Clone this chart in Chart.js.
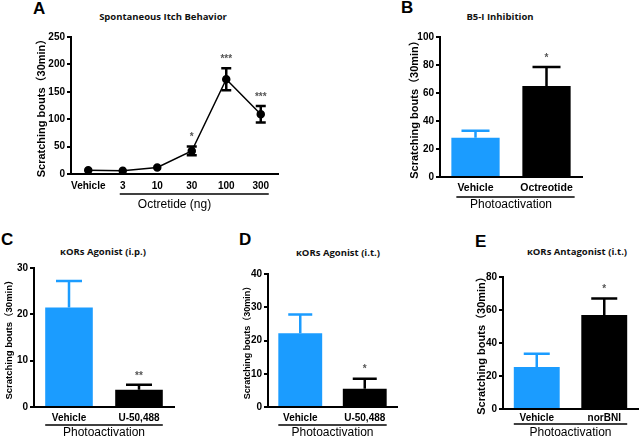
<!DOCTYPE html>
<html>
<head>
<meta charset="utf-8">
<script src="https://cdn.jsdelivr.net/npm/chart.js"></script>
<style>
  body { margin: 0; background: #fff; }
  #fig { position: relative; width: 640px; height: 440px; background: #fff; overflow: hidden; }
  .panel { position: absolute; }
  .letter { position: absolute; font: bold 17px "Liberation Sans", Arial, sans-serif; line-height: 18px; color: #000; }
  .ttl { position: absolute; width: 200px; text-align: center; font: bold 9.5px "Open Sans", "DejaVu Sans", sans-serif; line-height: 12px; color: #111; }
</style>
</head>
<body>
<div id="fig">
  <div class="letter" style="left:33px;top:0px">A</div>
  <div class="letter" style="left:401px;top:-1px">B</div>
  <div class="letter" style="left:1px;top:231px">C</div>
  <div class="letter" style="left:239px;top:231px">D</div>
  <div class="letter" style="left:475px;top:233px">E</div>

  <div class="ttl" style="left:63px;top:11px">Spontaneous Itch Behavior</div>
  <div class="ttl" style="left:400px;top:11px">B5-I Inhibition</div>
  <div class="ttl" style="left:3px;top:246px">κORs Agonist (i.p.)</div>
  <div class="ttl" style="left:238px;top:247px">κORs Agonist (i.t.)</div>
  <div class="ttl" style="left:477px;top:246px">κORs Antagonist (i.t.)</div>

  <canvas class="panel" id="chartA" width="320" height="215" style="left:0;top:0"></canvas>
  <canvas class="panel" id="chartB" width="260" height="215" style="left:380px;top:0"></canvas>
  <canvas class="panel" id="chartC" width="215" height="215" style="left:0;top:225px"></canvas>
  <canvas class="panel" id="chartD" width="210" height="215" style="left:215px;top:225px"></canvas>
  <canvas class="panel" id="chartE" width="215" height="215" style="left:425px;top:225px"></canvas>
</div>
<script>
// A: dose response
const doseLabels = ["Vehicle", "3", "10", "30", "100", "300"];
const itchMean = [7, 6, 12, 42, 173, 109];
const itchErr = [0, 0, 0, 8, 20, 15];
const itchStars = ["", "", "", "*", "***", "***"];

// B: B5-I inhibition
const inhibLabels = ["Vehicle", "Octreotide"];
const inhibMean = [28, 65];
const inhibErr = [5, 13.5];
const inhibStars = ["", "*"];

// C: kORs agonist i.p.
const ipLabels = ["Vehicle", "U-50,488"];
const ipMean = [21.5, 3.7];
const ipErr = [5.7, 1.1];
const ipStars = ["", "**"];

// D: kORs agonist i.t.
const itLabels = ["Vehicle", "U-50,488"];
const itMean = [22.2, 5.5];
const itErr = [5.6, 3];
const itStars = ["", "*"];

// E: kORs antagonist i.t.
const antLabels = ["Vehicle", "norBNI"];
const antMean = [25.5, 57];
const antErr = [8, 10];
const antStars = ["", "*"];

const BLUE = "#1b9cff";
const ARIAL = "'Liberation Sans', Arial, 'Noto Sans CJK SC', sans-serif";
const YTITLE = "Scratching bouts（30min）";

const errorBars = {
  id: "errorBars",
  afterDatasetsDraw(chart, args, opts) {
    const ctx = chart.ctx;
    const ys = chart.scales.y;
    const ds = chart.data.datasets[0];
    const meta = chart.getDatasetMeta(0);
    ctx.save();
    meta.data.forEach((el, i) => {
      const v = ds.data[i], e = opts.errors[i];
      const col = Array.isArray(opts.color) ? opts.color[i] : opts.color;
      const yTop = ys.getPixelForValue(v + e);
      const yBot = opts.twoSided ? ys.getPixelForValue(v - e) : ys.getPixelForValue(v);
      ctx.strokeStyle = col;
      ctx.lineWidth = opts.width;
      if (e > 0) {
        ctx.beginPath();
        ctx.moveTo(el.x, yBot);
        ctx.lineTo(el.x, yTop);
        ctx.moveTo(el.x - opts.cap, yTop);
        ctx.lineTo(el.x + opts.cap, yTop);
        if (opts.twoSided) {
          ctx.moveTo(el.x - opts.cap, yBot);
          ctx.lineTo(el.x + opts.cap, yBot);
        }
        ctx.stroke();
      }
      if (opts.stars[i]) {
        ctx.fillStyle = "#555";
        ctx.font = "bold 10px " + ARIAL;
        ctx.textAlign = "center";
        ctx.textBaseline = "bottom";
        ctx.fillText(opts.stars[i], el.x, yTop - opts.starGap);
      }
    });
    // group underline below the tick labels
    const u = opts.underline;
    const a = meta.data[u.first], b = meta.data[u.last];
    const x1 = a.x - (a.width || 0) / 2 - u.padL;
    const x2 = b.x + (b.width || 0) / 2 + u.padR;
    const y = chart.chartArea.bottom + u.dy;
    ctx.strokeStyle = "#000";
    ctx.lineWidth = 1.5;
    ctx.beginPath();
    ctx.moveTo(x1, y);
    ctx.lineTo(x2, y);
    ctx.stroke();
    ctx.restore();
  }
};

function makeChart(id, cfg) {
  const isLine = cfg.type === "line";
  const dataset = isLine ? {
    data: cfg.values,
    borderColor: "#000",
    borderWidth: 1.5,
    pointRadius: 3.5,
    pointBackgroundColor: "#000",
    pointBorderColor: "#000",
    tension: 0
  } : {
    data: cfg.values,
    backgroundColor: [BLUE, "#000"],
    borderWidth: 0,
    barPercentage: 1,
    categoryPercentage: 0.68
  };
  return new Chart(document.getElementById(id), {
    type: cfg.type,
    data: { labels: cfg.labels, datasets: [dataset] },
    plugins: [errorBars],
    options: {
      responsive: false,
      animation: false,
      layout: { padding: { left: 0, right: cfg.padR, top: cfg.padT, bottom: 0 } },
      plugins: {
        legend: { display: false },
        tooltip: { enabled: false },
        errorBars: {
          errors: cfg.errors,
          stars: cfg.stars,
          color: isLine ? "#000" : [BLUE, "#000"],
          width: 2.5,
          cap: cfg.cap,
          twoSided: isLine,
          starGap: 4,
          underline: cfg.underline
        }
      },
      scales: {
        x: {
          offset: true,
          grid: { display: false, drawTicks: false, tickLength: 0 },
          border: { display: true, color: "#000", width: 2 },
          ticks: {
            color: "#000", padding: cfg.xPad, maxRotation: 0, minRotation: 0, autoSkip: false,
            font: { family: ARIAL, size: cfg.xFont, weight: "bold" }
          },
          title: {
            display: true,
            text: cfg.xTitle,
            color: "#000",
            padding: { top: 0, bottom: cfg.xTitlePad },
            font: { family: ARIAL, size: 12, weight: "normal" }
          },
          afterFit: (s) => { s.height = cfg.xH; }
        },
        y: {
          min: 0,
          max: cfg.max,
          grid: { display: true, drawOnChartArea: false, drawTicks: true, tickLength: 4, color: "#000", lineWidth: 2 },
          border: { display: true, color: "#000", width: 2 },
          ticks: { stepSize: cfg.step, color: "#000", padding: 2, font: { family: ARIAL, size: 10, weight: "bold" } },
          title: {
            display: true,
            text: YTITLE,
            color: "#000",
            padding: { top: cfg.yTitlePad, bottom: 0 },
            font: { family: ARIAL, size: cfg.yFont, weight: "bold" }
          },
          afterFit: (s) => { s.width = cfg.yW; }
        }
      }
    }
  });
}

makeChart("chartA", {
  type: "line", labels: doseLabels, values: itchMean, errors: itchErr, stars: itchStars,
  max: 250, step: 50, yW: 71, padR: 42, padT: 37, xH: 41, xPad: 6, xFont: 10,
  xTitle: "Octretide (ng)", xTitlePad: 3, yFont: 11, yTitlePad: 35, cap: 5,
  underline: { first: 1, last: 5, padL: 3, padR: 8, dy: 20 }
});

makeChart("chartB", {
  type: "bar", labels: inhibLabels, values: inhibMean, errors: inhibErr, stars: inhibStars,
  max: 100, step: 20, yW: 60, padR: 58, padT: 37, xH: 38, xPad: 5, xFont: 10.5,
  xTitle: "Photoactivation", xTitlePad: 3, yFont: 11, yTitlePad: 28, cap: 14,
  underline: { first: 0, last: 1, padL: -5, padR: 4, dy: 20 }
});

makeChart("chartC", {
  type: "bar", labels: ipLabels, values: ipMean, errors: ipErr, stars: ipStars,
  max: 30, step: 10, yW: 34, padR: 41, padT: 43, xH: 33, xPad: 5, xFont: 10,
  xTitle: "Photoactivation", xTitlePad: 0, yFont: 9.5, yTitlePad: 4, cap: 13,
  underline: { first: 0, last: 1, padL: 0, padR: 0, dy: 18 }
});

makeChart("chartD", {
  type: "bar", labels: itLabels, values: itMean, errors: itErr, stars: itStars,
  max: 40, step: 10, yW: 53, padR: 28, padT: 49, xH: 33, xPad: 5, xFont: 10,
  xTitle: "Photoactivation", xTitlePad: 0, yFont: 9, yTitlePad: 27, cap: 12,
  underline: { first: 0, last: 1, padL: 0, padR: 0, dy: 18 }
});

makeChart("chartE", {
  type: "bar", labels: antLabels, values: antMean, errors: antErr, stars: antStars,
  max: 80, step: 20, yW: 78, padR: 2, padT: 52, xH: 31, xPad: 3, xFont: 10,
  xTitle: "Photoactivation", xTitlePad: 0, yFont: 11, yTitlePad: 50, cap: 13,
  underline: { first: 0, last: 1, padL: 0, padR: 0, dy: 15 }
});
</script>
</body>
</html>
